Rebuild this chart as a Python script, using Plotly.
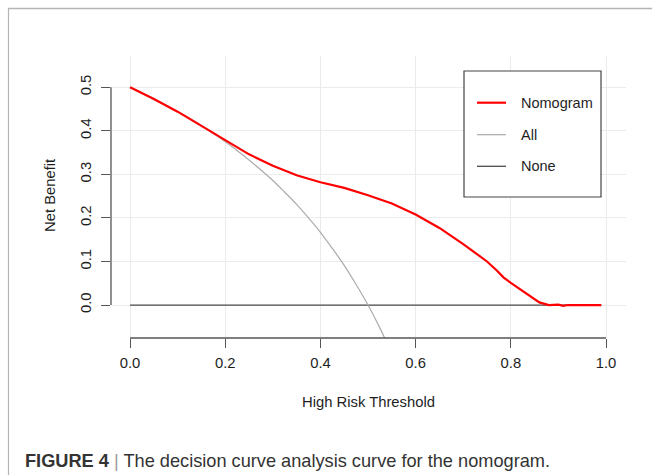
import plotly.graph_objects as go

# ---- data ----
thr_nomo = [0.00, 0.05, 0.10, 0.15, 0.20, 0.25, 0.30, 0.35, 0.40, 0.45, 0.50,
            0.55, 0.60, 0.65, 0.70, 0.73, 0.75, 0.77, 0.785, 0.80, 0.82, 0.84, 0.86,
            0.88, 0.90, 0.91, 0.92, 0.95, 0.99]
nb_nomo = [0.500, 0.473, 0.444, 0.411, 0.379, 0.346, 0.320, 0.298, 0.282, 0.269, 0.252,
           0.233, 0.208, 0.177, 0.140, 0.117, 0.100, 0.080, 0.063, 0.051, 0.036, 0.020, 0.006,
           0.000, 0.001, -0.002, 0.000, 0.000, 0.000]

thr_all = [0.000, 0.025, 0.050, 0.075, 0.100, 0.125, 0.150, 0.175, 0.200, 0.225,
           0.250, 0.275, 0.300, 0.325, 0.350, 0.375, 0.400, 0.425, 0.450, 0.475,
           0.500, 0.525, 0.550]
nb_all = [0.500, 0.487, 0.474, 0.459, 0.444, 0.429, 0.412, 0.394, 0.375, 0.355,
          0.333, 0.310, 0.286, 0.259, 0.231, 0.200, 0.167, 0.130, 0.091, 0.047,
          0.000, -0.053, -0.111]

thr_none = [0.00, 0.99]
nb_none = [0.0, 0.0]

legend_labels = ["Nomogram", "All", "None"]
x_ticks = [0.0, 0.2, 0.4, 0.6, 0.8, 1.0]
y_ticks = [0.0, 0.1, 0.2, 0.3, 0.4, 0.5]

x_title = "High Risk Threshold"
y_title = "Net Benefit"
caption_bold = "FIGURE 4"
caption_rest = "The decision curve analysis curve for the nomogram."

# ---- styling ----
W, H = 652, 475
FONT = "Liberation Sans, Arial, sans-serif"
RED = "#FF0000"
ALLC = "#ABABAB"
NONEC = "#4A4A4A"
AXC = "#555555"
GRID = "#EBEBEB"
TXT = "#1E1E1E"

def px(x):  # pixel -> paper x
    return x / W

def py(y):  # pixel -> paper y
    return 1 - y / H

fig = go.Figure()
fig.add_trace(go.Scatter(x=thr_none, y=nb_none, mode="lines",
                         line=dict(color=NONEC, width=1.3), name=legend_labels[2]))
fig.add_trace(go.Scatter(x=thr_all, y=nb_all, mode="lines",
                         line=dict(color=ALLC, width=1.2, shape="spline"), name=legend_labels[1]))
fig.add_trace(go.Scatter(x=thr_nomo, y=nb_nomo, mode="lines",
                         line=dict(color=RED, width=2.2), name=legend_labels[0]))

x0p, x1p = 111, 626
y0p, y1p = 56, 338

fig.update_layout(
    width=W, height=H, margin=dict(l=0, r=0, t=0, b=0),
    paper_bgcolor="white", plot_bgcolor="white",
    showlegend=False,
    font=dict(family=FONT, size=14.5, color=TXT),
    xaxis=dict(domain=[px(x0p), px(x1p)], range=[-0.04, 1.042],
               tickvals=x_ticks, ticktext=[f"{v:.1f}" for v in x_ticks],
               showgrid=True, gridcolor=GRID, gridwidth=1,
               zeroline=False, showline=False,
               ticks="outside", ticklen=9, tickwidth=1.3, tickcolor=AXC,
               ticklabelstandoff=2,
               tickfont=dict(size=14.8, color=TXT)),
    yaxis=dict(domain=[py(y1p), py(y0p)], range=[-0.0757, 0.5718],
               tickvals=y_ticks, ticktext=[f"{v:.1f}" for v in y_ticks],
               showgrid=True, gridcolor=GRID, gridwidth=1,
               zeroline=False, showline=False,
               ticks="outside", ticklen=9, tickwidth=1.3, tickcolor=AXC,
               tickangle=-90, ticklabelstandoff=4,
               tickfont=dict(size=14.8, color=TXT)),
)

shapes = []
# R-style axis lines spanning first..last tick
shapes.append(dict(type="line", xref="x", yref="paper", x0=x_ticks[0], x1=x_ticks[-1],
                   y0=py(y1p), y1=py(y1p), line=dict(color=AXC, width=1.3)))
shapes.append(dict(type="line", xref="paper", yref="y", x0=px(x0p), x1=px(x0p),
                   y0=y_ticks[0], y1=y_ticks[-1], line=dict(color=AXC, width=1.3)))

# legend box
lx0, lx1, ly0, ly1 = 464, 601, 71, 197
shapes.append(dict(type="rect", xref="paper", yref="paper", x0=px(lx0), x1=px(lx1),
                   y0=py(ly1), y1=py(ly0), fillcolor="white",
                   line=dict(color="#444444", width=1.2), layer="above"))
leg_rows = [102.7, 134.7, 166.3]
leg_styles = [(RED, 2.2), (ALLC, 1.2), (NONEC, 1.3)]
annotations = []
for lab, yy, (c, w) in zip(legend_labels, leg_rows, leg_styles):
    shapes.append(dict(type="line", xref="paper", yref="paper", x0=px(477), x1=px(506),
                       y0=py(yy), y1=py(yy), line=dict(color=c, width=w), layer="above"))
    annotations.append(dict(xref="paper", yref="paper", x=px(519), y=py(yy), text=lab,
                            showarrow=False, xanchor="left", yanchor="middle",
                            font=dict(family=FONT, size=14.5, color=TXT)))

# page frame (top and left)
shapes.append(dict(type="line", xref="paper", yref="paper", x0=px(8), x1=1.0,
                   y0=py(8.5), y1=py(8.5), line=dict(color="#B4B4B4", width=1.5)))
shapes.append(dict(type="line", xref="paper", yref="paper", x0=px(8.5), x1=px(8.5),
                   y0=py(8), y1=0.0, line=dict(color="#B4B4B4", width=1.2)))

# axis titles
annotations.append(dict(xref="paper", yref="paper", x=px(368), y=py(402), text=x_title,
                        showarrow=False, xanchor="center", yanchor="middle",
                        font=dict(family=FONT, size=14.8, color=TXT)))
annotations.append(dict(xref="paper", yref="paper", x=px(50), y=py(196), text=y_title,
                        showarrow=False, xanchor="center", yanchor="middle", textangle=-90,
                        font=dict(family=FONT, size=14.8, color=TXT)))
# caption
annotations.append(dict(xref="paper", yref="paper", x=px(23), y=py(461),
                        text=(f"<b>{caption_bold}</b> <span style='color:#9A9A9A'>|</span> "
                              f"{caption_rest}"),
                        showarrow=False, xanchor="left", yanchor="middle",
                        font=dict(family=FONT, size=18.2, color="#333333")))

fig.update_layout(shapes=shapes, annotations=annotations)
fig.write_html("out.html")
